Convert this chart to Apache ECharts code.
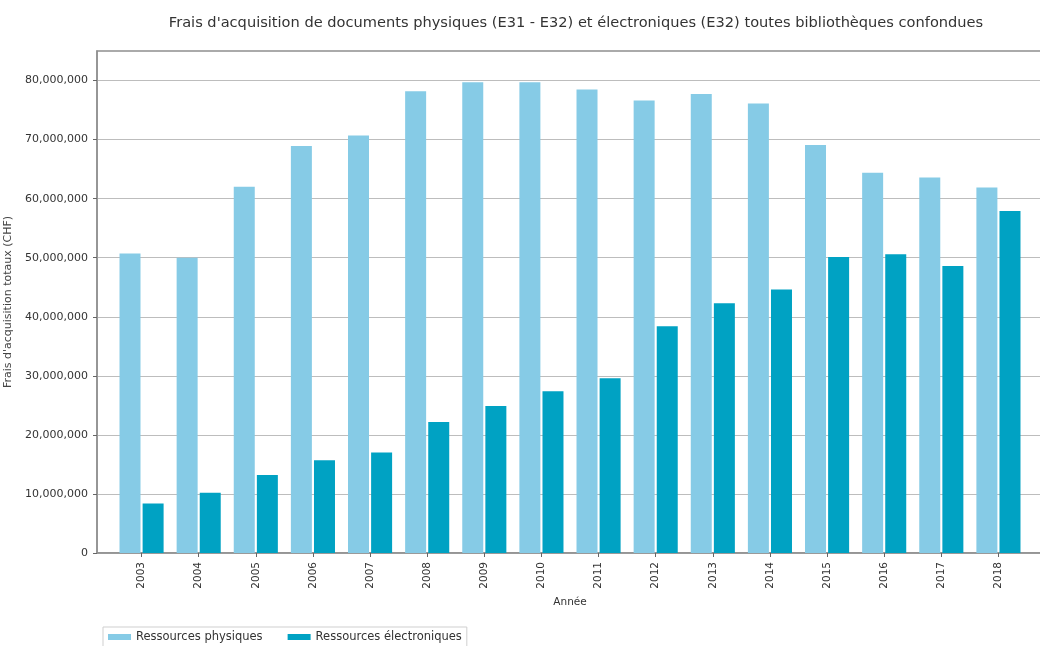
<!DOCTYPE html>
<html>
<head>
<meta charset="utf-8">
<script src="https://cdn.jsdelivr.net/npm/echarts@6/dist/echarts.min.js"></script>
<style>html,body{margin:0;padding:0;background:#fff;}#c{width:1040px;height:646px;}</style>
</head>
<body>
<div id="c"></div>
<script>
const years = ['2003','2004','2005','2006','2007','2008','2009','2010','2011','2012','2013','2014','2015','2016','2017','2018'];
const physiques = [50.7e6, 50.0e6, 62.0e6, 68.9e6, 70.7e6, 78.2e6, 79.7e6, 79.7e6, 78.5e6, 76.6e6, 77.7e6, 76.1e6, 69.1e6, 64.4e6, 63.6e6, 61.9e6];
const electroniques = [8.4e6, 10.2e6, 13.2e6, 15.7e6, 17.0e6, 22.2e6, 24.9e6, 27.4e6, 29.6e6, 38.4e6, 42.3e6, 44.6e6, 50.1e6, 50.6e6, 48.6e6, 57.9e6];
const yTicks = [0, 10e6, 20e6, 30e6, 40e6, 50e6, 60e6, 70e6, 80e6];

const idx = years.map((y, i) => i);
const chart = echarts.init(document.getElementById('c'), null, {renderer: 'canvas'});
const font = 'DejaVu Sans';
chart.setOption({
  animation: false,
  backgroundColor: '#fff',
  title: {
    text: "Frais d'acquisition de documents physiques (E31 - E32) et électroniques (E32) toutes bibliothèques confondues",
    left: 571, top: 11, textAlign: 'center',
    textStyle: {fontFamily: font, fontSize: 14.6, fontWeight: 'normal', color: '#333'}
  },
  legend: {
    left: 103, top: 627,
    orient: 'horizontal',
    itemWidth: 23, itemHeight: 6, itemGap: 25,
    padding: [4, 5, 4, 5],
    borderColor: '#cfcfcf', borderWidth: 1, borderRadius: 0,
    icon: 'rect',
    textStyle: {fontFamily: font, fontSize: 11.5, color: '#333'},
    data: ['Ressources physiques', 'Ressources électroniques']
  },
  grid: {
    left: 97, right: -3, top: 51, bottom: 93,
    outerBoundsMode: 'none', containLabel: false,
    show: true, borderColor: '#8f8f8f', borderWidth: 1.5
  },
  xAxis: {
    type: 'value', min: -0.78, max: 15.78,
    name: 'Année', nameLocation: 'middle', nameGap: 44,
    nameTextStyle: {fontFamily: font, fontSize: 10.5, color: '#333'},
    axisLine: {show: true, onZero: false, lineStyle: {color: '#8f8f8f', width: 1.5}},
    axisTick: {show: true, customValues: idx, length: 4, lineStyle: {color: '#666'}},
    axisLabel: {
      customValues: idx, rotate: 90, margin: 9,
      fontFamily: font, fontSize: 10.5, color: '#333',
      formatter: v => years[Math.round(v)]
    },
    splitLine: {show: false}
  },
  yAxis: {
    type: 'value', min: 0, max: 85e6, interval: 10e6,
    name: "Frais d'acquisition totaux (CHF)", nameLocation: 'middle', nameGap: 80,
    nameTextStyle: {fontFamily: font, fontSize: 11, color: '#444'},
    axisLine: {show: true, onZero: false, lineStyle: {color: '#8f8f8f', width: 1.5}},
    axisTick: {show: true, customValues: yTicks, length: 4, lineStyle: {color: '#666'}},
    axisLabel: {
      customValues: yTicks, margin: 9,
      fontFamily: font, fontSize: 11, color: '#333',
      formatter: v => Number(v).toLocaleString('en-US')
    },
    splitLine: {show: true, lineStyle: {color: '#bdbdbd', width: 1}}
  },
  series: [
    {
      name: 'Ressources physiques', type: 'bar',
      data: physiques.map((v, i) => [i, v]),
      barWidth: 21, barGap: '10%',
      itemStyle: {color: '#86cbe6'}
    },
    {
      name: 'Ressources électroniques', type: 'bar',
      data: electroniques.map((v, i) => [i, v]),
      barWidth: 21, barGap: '10%',
      itemStyle: {color: '#00a2c3'}
    }
  ]
});
</script>
</body>
</html>
